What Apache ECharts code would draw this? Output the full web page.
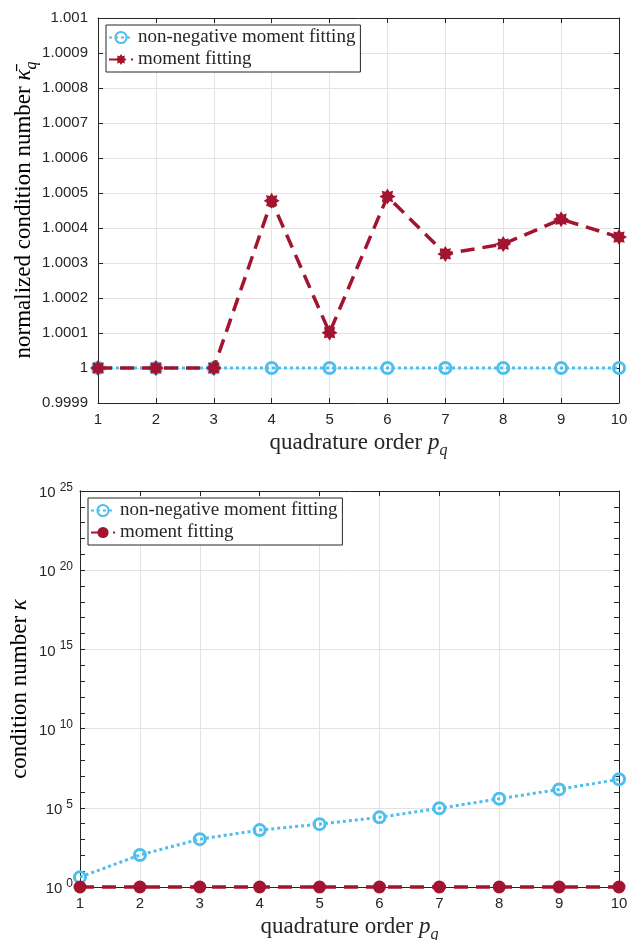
<!DOCTYPE html>
<html>
<head>
<meta charset="utf-8">
<script src="https://cdn.jsdelivr.net/npm/echarts@6/dist/echarts.min.js"></script>
<style>
  html, body { margin: 0; padding: 0; background: #fff; }
  #kappaBar, #kappa { width: 628px; height: 470px; }
</style>
</head>
<body>
<div id="kappaBar"></div>
<div id="kappa"></div>
<script>
// Quadrature orders on the horizontal axis
const orders = [1, 2, 3, 4, 5, 6, 7, 8, 9, 10];

// Normalized condition number (upper panel)
const kappaBarNonNeg = [1, 1, 1, 1, 1, 1, 1, 1, 1, 1];
const kappaBarMoment = [1, 1, 1, 1.000478, 1.000101, 1.000490, 1.000326, 1.000354, 1.000425, 1.000374];

// Condition number (lower panel, log scale)
const kappaNonNeg = [4.2, 105, 1050, 3900, 9300, 25000, 93000, 370000, 1450000, 6300000];
const kappaMoment = [1, 1, 1, 1, 1, 1, 1, 1, 1, 1];

const seriesNames = ['non-negative moment fitting', 'moment fitting'];

const BLUE = '#4DBEEE';
const RED = '#A2142F';
const INK = '#262626';
const GRID = '#e3e3e3';
const SANS = 'Liberation Sans, Arial, sans-serif';
const SERIF = 'Liberation Serif, Times New Roman, serif';

// eight-armed asterisk marker outline
function asteriskPath() {
  const pts = [];
  for (let i = 0; i < 16; i++) {
    const a = i * Math.PI / 8;
    const r = i % 2 === 0 ? 10 : 6.5;
    pts.push((r * Math.cos(a)).toFixed(2) + ' ' + (r * Math.sin(a)).toFixed(2));
  }
  return 'path://M' + pts.join(' L') + ' Z';
}

const titleRich = {
  t: { fontFamily: SERIF, fontSize: 23, color: INK, verticalAlign: 'bottom', padding: [0, 0, 4, 0] },
  i: { fontFamily: SERIF, fontStyle: 'italic', fontSize: 23, color: INK, verticalAlign: 'bottom', padding: [0, 0, 4, 0] },
  sub: { fontFamily: SERIF, fontStyle: 'italic', fontSize: 16, color: INK, verticalAlign: 'bottom' }
};

// vertical axis title, centred at (cx, cy) and reading bottom to top
function sideTitle(text, cx, cy) {
  return {
    type: 'text', x: cx, y: cy, rotation: Math.PI / 2, silent: true,
    style: { text, rich: titleRich, align: 'center', verticalAlign: 'middle' }
  };
}

function pairs(xs, ys) { return xs.map((x, k) => [x, ys[k]]); }

function xAxes() {
  const common = {
    type: 'value', min: 1, max: 10, interval: 1,
    axisLine: { show: true, onZero: false, lineStyle: { color: INK, width: 1 } },
    axisTick: { show: true, inside: true, length: 5, lineStyle: { color: INK } }
  };
  return [
    Object.assign({}, common, {
      position: 'bottom',
      axisLabel: { color: INK, fontFamily: SANS, fontSize: 15, margin: 9 },
      splitLine: { show: true, lineStyle: { color: GRID, width: 1 } },
      name: '{t|quadrature order }{i|p}{sub|q}',
      nameLocation: 'middle', nameGap: 27,
      nameTextStyle: { rich: titleRich }
    }),
    Object.assign({}, common, {
      position: 'top',
      axisLabel: { show: false },
      splitLine: { show: false }
    })
  ];
}

function legendBox(left, topPx) {
  return {
    orient: 'vertical', left, top: topPx,
    backgroundColor: '#fff', borderColor: INK, borderWidth: 1,
    padding: [3, 5, 3, 2], itemGap: 3, itemWidth: 24, itemHeight: 14,
    textStyle: { fontFamily: SERIF, fontSize: 19, color: INK },
    data: seriesNames
  };
}

// ---------- upper panel ----------
const chartBar = echarts.init(document.getElementById('kappaBar'), null, { renderer: 'canvas' });
const yBar = {
  type: 'value', min: 0.9999, max: 1.001, interval: 0.0001,
  axisLine: { show: true, lineStyle: { color: INK, width: 1 } },
  axisTick: { show: true, inside: true, length: 5, lineStyle: { color: INK } }
};
chartBar.setOption({
  animation: false,
  grid: { left: 98, top: 18, width: 521, height: 385, containLabel: false, outerBoundsMode: 'none' },
  legend: legendBox(106, 25),
  graphic: [sideTitle('{t|normalized condition number }{i|κ̄}{sub|q}', 26, 210)],
  xAxis: xAxes(),
  yAxis: [
    Object.assign({}, yBar, {
      position: 'left',
      axisLabel: {
        color: INK, fontFamily: SANS, fontSize: 15, margin: 10,
        formatter: v => String(parseFloat(v.toFixed(4)))
      },
      splitLine: { show: true, lineStyle: { color: GRID, width: 1 } }
    }),
    Object.assign({}, yBar, {
      position: 'right',
      axisLabel: { show: false },
      splitLine: { show: false }
    })
  ],
  series: [
    {
      name: seriesNames[0], type: 'line', data: pairs(orders, kappaBarNonNeg),
      symbol: 'circle', symbolSize: 11, clip: false,
      lineStyle: { color: BLUE, width: 3, type: [3, 3] },
      itemStyle: { color: 'rgba(0,0,0,0)', borderColor: BLUE, borderWidth: 3 },
      z: 2
    },
    {
      name: seriesNames[1], type: 'line', data: pairs(orders, kappaBarMoment),
      symbol: asteriskPath(), symbolSize: 16, clip: false,
      lineStyle: { color: RED, width: 3.5, type: [14, 8] },
      itemStyle: { color: RED },
      z: 3
    }
  ]
});

// ---------- lower panel ----------
const chartKappa = echarts.init(document.getElementById('kappa'), null, { renderer: 'canvas' });
// one tick per decade on both vertical edges
const decadeTicks = {
  type: 'value', min: 0, max: 25, interval: 1,
  axisLine: { show: true, lineStyle: { color: INK, width: 1 } },
  axisTick: { show: true, inside: true, length: 5, lineStyle: { color: INK } },
  axisLabel: { show: false },
  splitLine: { show: false }
};
chartKappa.setOption({
  animation: false,
  grid: { left: 80, top: 21, width: 539, height: 396, containLabel: false, outerBoundsMode: 'none' },
  legend: legendBox(88, 28),
  graphic: [sideTitle('{t|condition number }{i|κ}', 22, 219)],
  xAxis: xAxes(),
  yAxis: [
    {
      type: 'log', logBase: 10, min: 1, max: 1e25, interval: 5,
      position: 'left',
      axisLine: { show: true, lineStyle: { color: INK, width: 1 } },
      axisTick: { show: false },
      axisLabel: {
        margin: 7,
        formatter: v => '{b|10}{s|' + Math.round(Math.log10(v)) + '}',
        rich: {
          b: { fontFamily: SANS, fontSize: 15, color: INK, verticalAlign: 'bottom' },
          s: { fontFamily: SANS, fontSize: 12, color: INK, verticalAlign: 'bottom', padding: [0, 0, 7, 4] }
        }
      },
      splitLine: { show: true, lineStyle: { color: GRID, width: 1 } }
    },
    Object.assign({}, decadeTicks, { position: 'left' }),
    Object.assign({}, decadeTicks, { position: 'right' })
  ],
  series: [
    {
      name: seriesNames[0], type: 'line', data: pairs(orders, kappaNonNeg),
      symbol: 'circle', symbolSize: 11, clip: false,
      lineStyle: { color: BLUE, width: 3, type: [3, 3] },
      itemStyle: { color: 'rgba(0,0,0,0)', borderColor: BLUE, borderWidth: 3 },
      z: 2
    },
    {
      name: seriesNames[1], type: 'line', data: pairs(orders, kappaMoment),
      symbol: 'circle', symbolSize: 13, clip: false,
      lineStyle: { color: RED, width: 3.5, type: [14, 8] },
      itemStyle: { color: RED },
      z: 3
    }
  ]
});
</script>
</body>
</html>
